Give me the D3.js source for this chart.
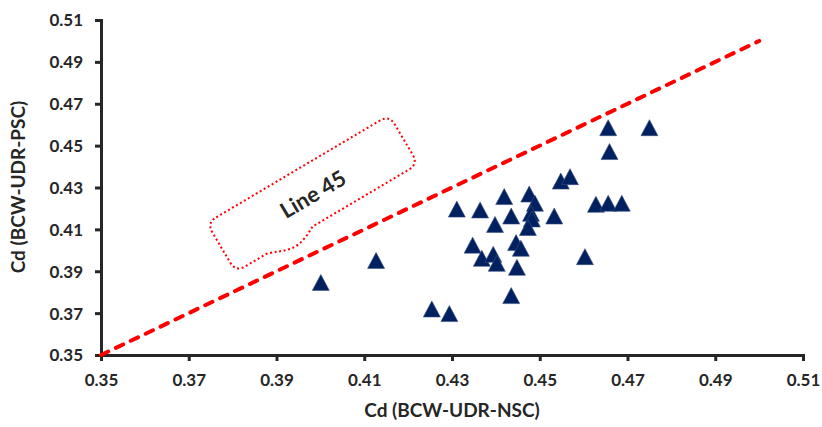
<!DOCTYPE html>
<html><head><meta charset="utf-8">
<script src="https://cdn.jsdelivr.net/npm/d3@7"></script>
<style>html,body{margin:0;padding:0;background:#fff;}svg{display:block;}</style>
</head><body>
<svg id="chart" width="822" height="427"></svg>
<script>
// Data
const xValues = [0.4001,0.4127,0.4254,0.4294,0.4311,0.4364,0.4419,0.4476,0.4489,0.4435,0.4480,0.4482,0.4398,0.4473,0.4533,0.4628,0.4347,0.4368,0.4394,0.4402,0.4446,0.4457,0.4448,0.4435,0.4603,0.4548,0.4569,0.4656,0.4750,0.4659,0.4656,0.4687];
const yValues = [0.3834,0.3939,0.3707,0.3685,0.4184,0.4180,0.4244,0.4256,0.4212,0.4151,0.4164,0.4137,0.4111,0.4096,0.4151,0.4207,0.4012,0.3949,0.3968,0.3925,0.4024,0.3997,0.3906,0.3771,0.3957,0.4318,0.4339,0.4573,0.4573,0.4459,0.4212,0.4212];
const lineX = [0.35, 0.50];
const lineY = [0.35, 0.50];
const xTicks = [0.35,0.37,0.39,0.41,0.43,0.45,0.47,0.49,0.51];
const yTicks = [0.35,0.37,0.39,0.41,0.43,0.45,0.47,0.49,0.51];
const xTitle = "Cd (BCW-UDR-NSC)";
const yTitle = "Cd (BCW-UDR-PSC)";
const calloutText = "Line 45";

const svg = d3.select("#chart");
const x = d3.scaleLinear().domain([0.35, 0.51]).range([101, 803]);
const y = d3.scaleLinear().domain([0.35, 0.51]).range([355, 20]);
const FONT = "Lato, 'Open Sans', sans-serif";
const TXT = "#262626";

// Axes
const xAxis = svg.append("g").attr("transform", "translate(0,355)")
  .call(d3.axisBottom(x).tickValues(xTicks).tickFormat(d3.format(".2f")).tickSizeOuter(0).tickSize(6).tickPadding(10));
const yAxis = svg.append("g").attr("transform", "translate(101,0)")
  .call(d3.axisLeft(y).tickValues(yTicks).tickFormat(d3.format(".2f")).tickSizeOuter(0).tickSize(6).tickPadding(12));
[xAxis, yAxis].forEach(g => {
  g.select(".domain").attr("stroke", TXT).attr("stroke-width", 3);
  g.selectAll(".tick line").attr("stroke", TXT).attr("stroke-width", 3);
  g.selectAll(".tick text").attr("fill", TXT).attr("font-family", FONT)
    .attr("font-weight", 700).attr("font-size", 17);
});
xAxis.selectAll(".tick text").attr("dy", "0.9em");
yAxis.selectAll(".tick text").attr("dy", "0.35em");

// Axis titles
svg.append("text").attr("x", 452).attr("y", 417).attr("text-anchor", "middle")
  .attr("font-family", FONT).attr("font-weight", 700).attr("font-size", 19).attr("fill", TXT).text(xTitle);
svg.append("text").attr("transform", "translate(25,187) rotate(-90)").attr("text-anchor", "middle")
  .attr("font-family", FONT).attr("font-weight", 700).attr("font-size", 19).attr("fill", TXT).text(yTitle);

// 45-degree line
svg.append("line")
  .attr("x1", x(lineX[0])).attr("y1", y(lineY[0]))
  .attr("x2", x(lineX[1])).attr("y2", y(lineY[1]))
  .attr("stroke", "#FF0000").attr("stroke-width", 4)
  .attr("stroke-dasharray", "8,8.5").attr("stroke-linecap", "round");

// Markers
const W = 17, H = 16;
const tri = `M0,${-H*2/3}L${W/2},${H/3}L${-W/2},${H/3}Z`;
svg.append("g").selectAll("path").data(xValues.map((v, i) => [v, yValues[i]])).join("path")
  .attr("d", tri)
  .attr("transform", d => `translate(${x(d[0])},${y(d[1])})`)
  .attr("fill", "#002060").attr("stroke", "#3A5180").attr("stroke-width", 0.6);

// Callout
const cg = svg.append("g").attr("transform", "translate(312.5,193.5) rotate(-30.6)");
const hw = 106, hh = 28.5, r = 11;
const cp = `M${-hw+r},${-hh} L${hw-r},${-hh} Q${hw},${-hh} ${hw},${-hh+r} L${hw},${hh-r} Q${hw},${hh} ${hw-r},${hh}
 L-17,${hh} C-24,${hh+4} -32,${hh+8} -42,${hh+8.5} C-52,${hh+8} -60,${hh+3} -70,${hh}
 L${-hw+r},${hh} Q${-hw},${hh} ${-hw},${hh-r} L${-hw},${-hh+r} Q${-hw},${-hh} ${-hw+r},${-hh} Z`;
cg.append("path").attr("d", cp).attr("fill", "none").attr("stroke", "#FF0000")
  .attr("stroke-width", 2).attr("stroke-dasharray", "2,2.6");
cg.append("text").attr("x", 0).attr("y", 1).attr("text-anchor", "middle").attr("dy", "0.35em")
  .attr("font-family", FONT).attr("font-weight", 700).attr("font-size", 22).attr("fill", TXT).text(calloutText);
</script>
</body></html>
